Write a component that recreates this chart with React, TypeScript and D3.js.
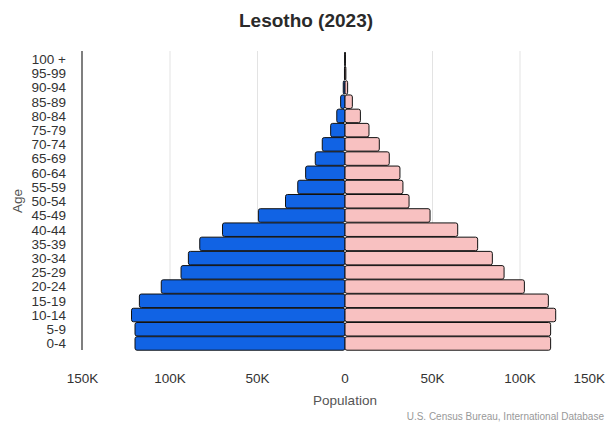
import React from "react";
import * as d3 from "d3";

const ageGroups = ["0-4","5-9","10-14","15-19","20-24","25-29","30-34","35-39","40-44","45-49","50-54","55-59","60-64","65-69","70-74","75-79","80-84","85-89","90-94","95-99","100 +"];
const maleValues = [120000,120000,122000,117500,105000,93700,89500,83000,70000,49500,34000,27000,22500,17000,13000,8200,4700,2500,1000,300,100];
const femaleValues = [117500,117500,120400,116200,102500,90900,84200,75800,64400,48600,36600,33100,31400,25300,19600,13700,8800,4200,1500,500,200];
const tickValues = [-150000,-100000,-50000,0,50000,100000,150000];

const W = 606, H = 426;
const fontFam = "Arial, 'Liberation Sans', Helvetica, sans-serif";

export default function App() {
  const x = d3.scaleLinear().domain([-150000, 150000]).range([82.5, 607.5]);
  const y = d3.scaleBand().domain([...ageGroups].reverse()).range([52, 350.5]).paddingInner(0.05).paddingOuter(0.02);
  const fmt = (v: number) => (v === 0 ? "0" : `${Math.abs(v) / 1000}K`);
  const bw = y.bandwidth();
  return (
    <svg width={W} height={H} style={{ position: "absolute", left: 0, top: 0, background: "#fff" }} fontFamily={fontFam}>
      <text x={306} y={27} textAnchor="middle" fontSize={19} fontWeight="bold" fill="#2a2a2a">Lesotho (2023)</text>
      {tickValues.filter(v => v !== 0 && Math.abs(v) !== 150000).map(v => (
        <line key={v} x1={x(v)} x2={x(v)} y1={51} y2={350} stroke="#e3e3e3" strokeWidth={1} />
      ))}
      <line x1={82} x2={82} y1={51} y2={350} stroke="#555" strokeWidth={1.5} />
      {ageGroups.map((g, i) => (
        <g key={g}>
          <rect x={x(-maleValues[i])} y={y(g)!} width={x(0) - x(-maleValues[i])} height={bw} rx={2} fill="#1163e4" stroke="#111" strokeWidth={1} />
          <rect x={x(0)} y={y(g)!} width={x(femaleValues[i]) - x(0)} height={bw} rx={2} fill="#f8c1c1" stroke="#111" strokeWidth={1} />
          <text x={66} y={y(g)! + bw / 2} dy="0.36em" textAnchor="end" fontSize={13.5} fill="#333">{g}</text>
        </g>
      ))}
      {tickValues.map(v => {
        const px = x(v);
        const atRight = px > W - 16;
        return (
          <text key={v} x={atRight ? W - 1 : px} y={383} textAnchor={atRight ? "end" : "middle"} fontSize={13.5} fill="#333">{fmt(v)}</text>
        );
      })}
      <text x={345} y={405} textAnchor="middle" fontSize={13.5} fill="#555">Population</text>
      <text transform="translate(22,201) rotate(-90)" textAnchor="middle" fontSize={13.5} fill="#555">Age</text>
      <text x={W - 2} y={420} textAnchor="end" fontSize={10} fill="#999">U.S. Census Bureau, International Database</text>
    </svg>
  );
}
